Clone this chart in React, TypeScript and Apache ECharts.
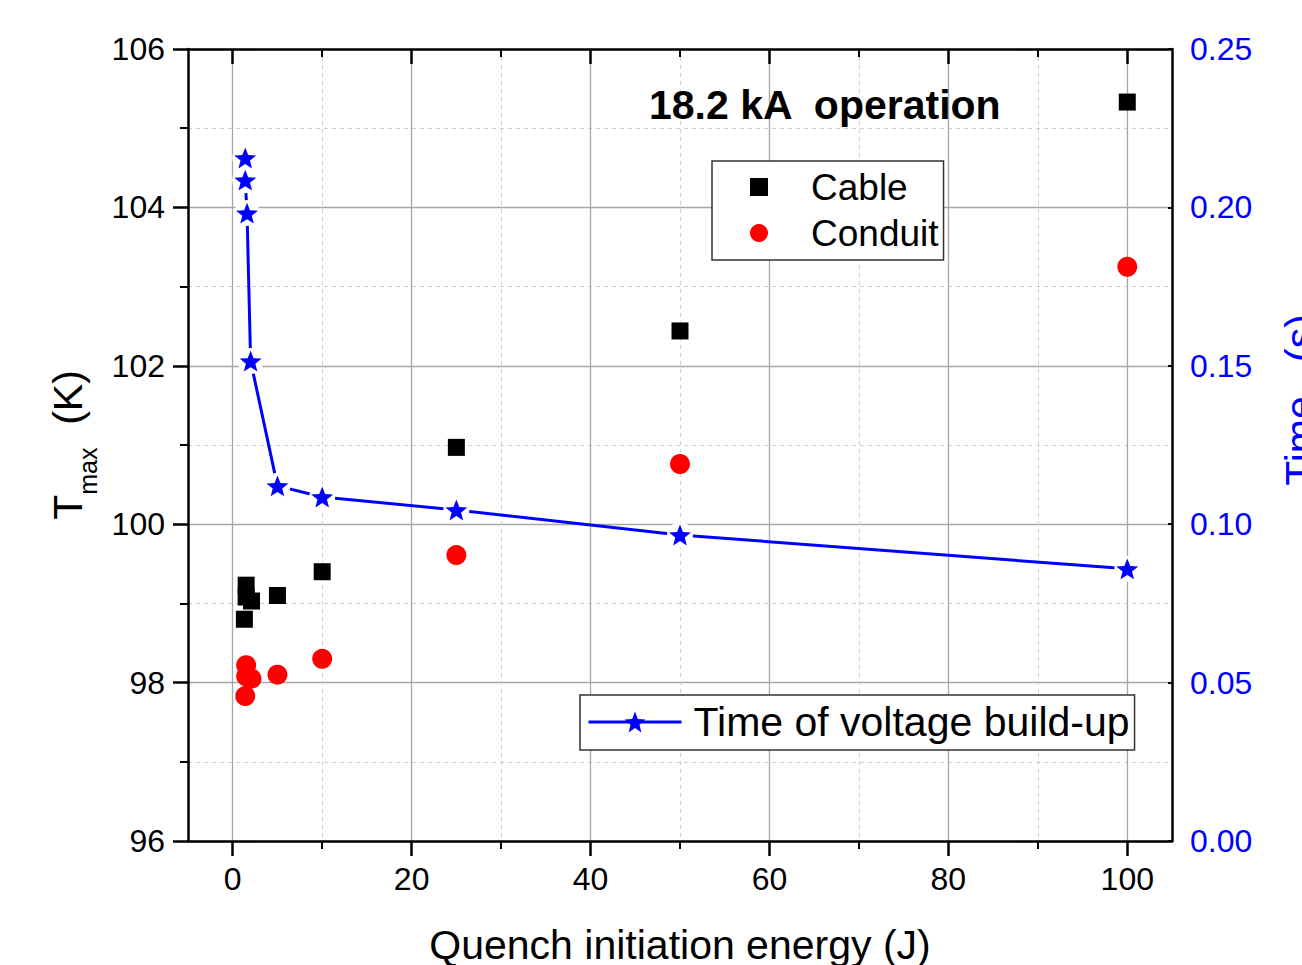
import React, { useEffect, useRef } from 'react';
import * as echarts from 'echarts';

// Peak temperature of cable and conduit vs. quench initiation energy
const cableEnergy = [1.3, 1.5, 1.5, 2.1, 5, 10, 25, 50, 100];
const cableTmax = [98.8, 99.23, 99.08, 99.03, 99.1, 99.4, 100.97, 102.44, 105.33];
const conduitEnergy = [1.4, 1.5, 1.5, 2.1, 5, 10, 25, 50, 100];
const conduitTmax = [97.83, 98.22, 98.08, 98.05, 98.1, 98.3, 99.61, 100.76, 103.25];

// Time of voltage build-up (s)
const timeEnergy = [1.4, 1.4, 1.6, 2.0, 5, 10, 25, 50, 100];
const buildUpTime = [0.2156, 0.2086, 0.1982, 0.1515, 0.1121, 0.1086, 0.1045, 0.0966, 0.0859];

const xMajorTicks = [0, 20, 40, 60, 80, 100];
const xMinorTicks = [10, 30, 50, 70, 90];

const FONT = '"Liberation Sans", Arial, Helvetica, sans-serif';
const BLUE = '#0000ff';
const RED = '#ff0000';
const GRID_MAJOR = '#a6a6a6';
const GRID_MINOR = '#cfcfcf';

// five-pointed star symbol
function starPath(): string {
  const pts: string[] = [];
  for (let k = 0; k < 10; k++) {
    const a = (-90 + 36 * k) * (Math.PI / 180);
    const r = k % 2 === 0 ? 10 : 4.3;
    pts.push(`${(r * Math.cos(a)).toFixed(3)} ${(r * Math.sin(a)).toFixed(3)}`);
  }
  return 'path://M' + pts.join(' L') + ' Z';
}

const zip = (xs: number[], ys: number[]) => xs.map((x, i) => [x, ys[i]]);

export default function App() {
  const ref = useRef<HTMLDivElement>(null);

  useEffect(() => {
    if (!ref.current) return;
    const chart = echarts.init(ref.current, undefined, { renderer: 'svg' });
    const STAR = starPath();

    const xCommon = {
      type: 'value' as const,
      min: -5,
      max: 105,
      gridIndex: 0,
    };

    chart.setOption({
      animation: false,
      backgroundColor: '#ffffff',
      textStyle: { fontFamily: FONT },
      title: {
        text: '18.2 kA  operation',
        left: 649,
        top: 84,
        padding: 0,
        textStyle: { fontFamily: FONT, fontSize: 41, fontWeight: 'bold', color: '#000' },
      },
      grid: { left: 188, right: 130, top: 49, bottom: 124, outerBoundsMode: 'none', containLabel: false },
      legend: [
        {
          data: ['Cable', 'Conduit'],
          orient: 'vertical',
          left: 712,
          top: 161,
          padding: [6, 5, 7, 38],
          itemWidth: 18,
          itemHeight: 18,
          itemGap: 6,
          backgroundColor: '#ffffff',
          borderColor: '#333333',
          borderWidth: 1.5,
          borderRadius: 0,
          textStyle: { fontFamily: FONT, fontSize: 37, color: '#000', lineHeight: 40, padding: [0, 0, 0, 38] },
        },
        {
          data: ['Time of voltage build-up'],
          left: 580,
          top: 695,
          padding: [5, 5, 6, 7],
          itemWidth: 93,
          itemHeight: 26,
          backgroundColor: '#ffffff',
          borderColor: '#333333',
          borderWidth: 1.5,
          borderRadius: 0,
          lineStyle: { width: 3, color: BLUE },
          textStyle: { fontFamily: FONT, fontSize: 41, color: '#000', lineHeight: 44, padding: [0, 0, 0, 7] },
        },
      ],
      xAxis: [
        {
          ...xCommon,
          position: 'bottom',
          name: 'Quench initiation energy (J)',
          nameLocation: 'middle',
          nameGap: 83,
          nameTextStyle: { fontFamily: FONT, fontSize: 41, color: '#000' },
          axisLine: { show: true, onZero: false, lineStyle: { color: '#000', width: 2.5 } },
          axisTick: { show: true, inside: false, length: 15, customValues: xMajorTicks, lineStyle: { color: '#000', width: 2.5 } },
          axisLabel: { show: true, margin: 22, customValues: xMajorTicks, fontFamily: FONT, fontSize: 32, color: '#000' },
          splitLine: { show: true, lineStyle: { color: GRID_MAJOR, width: 1.3, type: 'solid' } },
        },
        {
          ...xCommon,
          position: 'bottom',
          axisLine: { show: false, onZero: false },
          axisTick: { show: true, inside: false, length: 8, customValues: xMinorTicks, lineStyle: { color: '#000', width: 2 } },
          axisLabel: { show: false, customValues: xMinorTicks },
          splitLine: { show: true, lineStyle: { color: GRID_MINOR, width: 1, type: [4, 4] } },
        },
        {
          ...xCommon,
          position: 'top',
          axisLine: { show: true, onZero: false, lineStyle: { color: '#000', width: 2.5 } },
          axisTick: { show: true, inside: true, length: 15, customValues: xMajorTicks, lineStyle: { color: '#000', width: 2.5 } },
          axisLabel: { show: false, customValues: xMajorTicks },
          splitLine: { show: false },
        },
        {
          ...xCommon,
          position: 'top',
          axisLine: { show: false, onZero: false },
          axisTick: { show: true, inside: true, length: 8, customValues: xMinorTicks, lineStyle: { color: '#000', width: 2 } },
          axisLabel: { show: false, customValues: xMinorTicks },
          splitLine: { show: false },
        },
      ],
      yAxis: [
        {
          type: 'value',
          position: 'left',
          min: 96,
          max: 106,
          interval: 2,
          name: '{t|T}{s|max}{t|  (K)}',
          nameLocation: 'middle',
          nameGap: 97,
          nameTextStyle: {
            rich: {
              t: { fontFamily: FONT, fontSize: 41, color: '#000', verticalAlign: 'top', lineHeight: 44 },
              s: { fontFamily: FONT, fontSize: 25, color: '#000', verticalAlign: 'top', lineHeight: 25, padding: [28, 0, 0, 0] },
            },
          },
          axisLine: { show: true, onZero: false, lineStyle: { color: '#000', width: 2.5 } },
          axisTick: { show: true, inside: false, length: 15, lineStyle: { color: '#000', width: 2.5 } },
          minorTick: { show: true, splitNumber: 2, length: 8, lineStyle: { color: '#000', width: 2 } },
          axisLabel: { margin: 23, fontFamily: FONT, fontSize: 32, color: '#000' },
          splitLine: { show: true, lineStyle: { color: GRID_MAJOR, width: 1.3, type: 'solid' } },
          minorSplitLine: { show: true, lineStyle: { color: GRID_MINOR, width: 1, type: [4, 4] } },
        },
        {
          type: 'value',
          position: 'right',
          min: 0,
          max: 0.25,
          interval: 0.05,
          name: 'Time   (s)',
          nameLocation: 'middle',
          nameGap: 107,
          nameTextStyle: { fontFamily: FONT, fontSize: 41, color: BLUE, padding: [0, 0, 0, 90] },
          axisLine: { show: true, onZero: false, lineStyle: { color: '#000', width: 2.5 } },
          axisTick: { show: true, inside: true, length: 4, lineStyle: { color: '#000', width: 2 } },
          axisLabel: {
            margin: 18,
            fontFamily: FONT,
            fontSize: 32,
            color: BLUE,
            formatter: (v: number) => v.toFixed(2),
          },
          splitLine: { show: false },
        },
      ],
      series: [
        {
          name: 'Time of voltage build-up',
          type: 'line',
          xAxisIndex: 0,
          yAxisIndex: 1,
          data: zip(timeEnergy, buildUpTime),
          symbol: STAR,
          symbolSize: 22,
          symbolKeepAspect: true,
          showSymbol: true,
          lineStyle: { color: BLUE, width: 3 },
          itemStyle: { color: BLUE, opacity: 1 },
          z: 2,
        },
        {
          // white halo that opens the line around each star
          name: 'halo',
          type: 'scatter',
          xAxisIndex: 0,
          yAxisIndex: 1,
          data: zip(timeEnergy, buildUpTime),
          symbol: 'circle',
          symbolSize: 26,
          itemStyle: { color: '#ffffff', opacity: 1 },
          silent: true,
          z: 3,
        },
        {
          name: 'stars',
          type: 'scatter',
          xAxisIndex: 0,
          yAxisIndex: 1,
          data: zip(timeEnergy, buildUpTime),
          symbol: STAR,
          symbolSize: 22,
          symbolKeepAspect: true,
          itemStyle: { color: BLUE, opacity: 1 },
          z: 4,
        },
        {
          name: 'Cable',
          type: 'scatter',
          xAxisIndex: 0,
          yAxisIndex: 0,
          data: zip(cableEnergy, cableTmax),
          symbol: 'rect',
          symbolSize: 17,
          itemStyle: { color: '#000000', opacity: 1 },
          z: 4,
        },
        {
          name: 'Conduit',
          type: 'scatter',
          xAxisIndex: 0,
          yAxisIndex: 0,
          data: zip(conduitEnergy, conduitTmax),
          symbol: 'circle',
          symbolSize: 20,
          itemStyle: { color: RED, opacity: 1 },
          z: 4,
        },
      ],
    });

    return () => chart.dispose();
  }, []);

  return (
    <div
      ref={ref}
      style={{ position: 'absolute', left: 0, top: 0, width: 1302, height: 965, background: '#fff' }}
    />
  );
}
